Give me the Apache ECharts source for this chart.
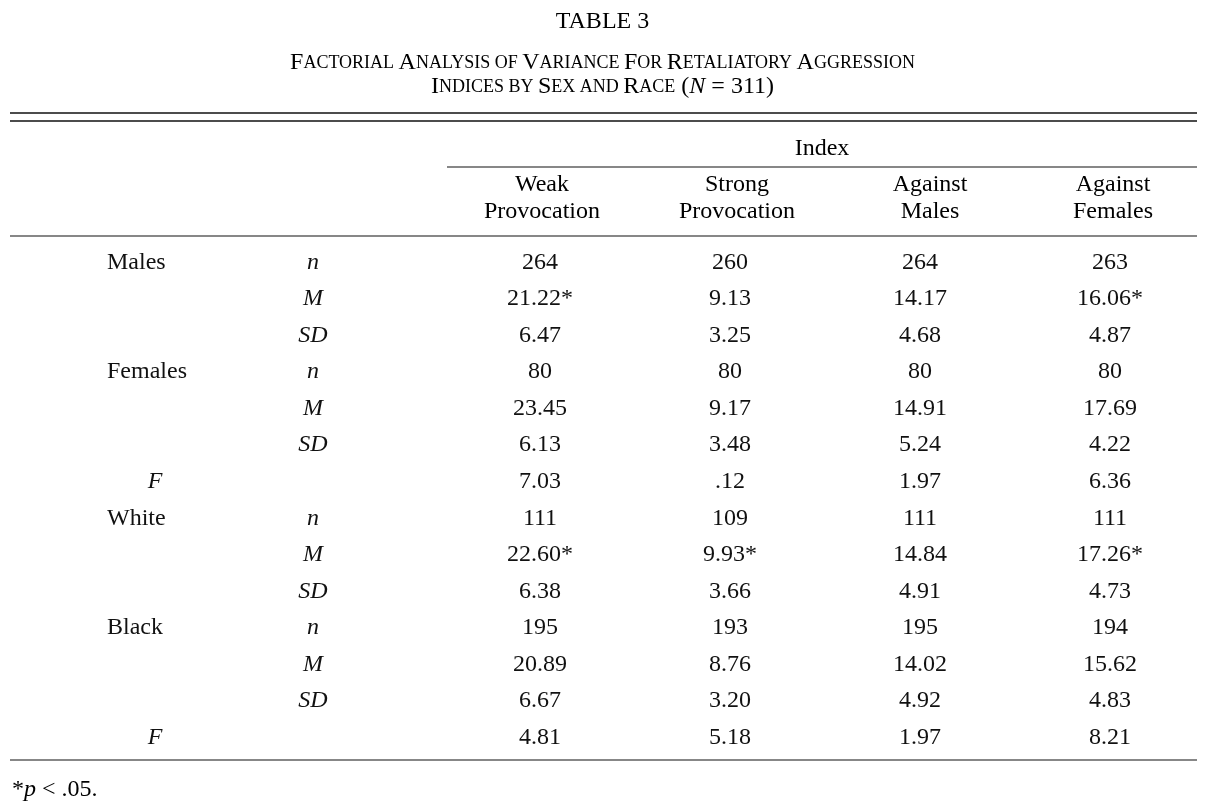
<!DOCTYPE html>
<html><head><meta charset="utf-8">
<script src="https://cdn.jsdelivr.net/npm/echarts@6/dist/echarts.min.js"></script>
<style>html,body{margin:0;background:#fff}#c{width:1205px;height:802px}</style>
</head><body><div id="c"></div>
<script>
// 表格数据
var indexCols = ['Weak\nProvocation', 'Strong\nProvocation', 'Against\nMales', 'Against\nFemales'];
var groupLabels = ['Males', '', '', 'Females', '', '', 'F', 'White', '', '', 'Black', '', '', 'F'];
var statLabels = ['n', 'M', 'SD', 'n', 'M', 'SD', '', 'n', 'M', 'SD', 'n', 'M', 'SD', ''];
var weakProv = ['264', '21.22*', '6.47', '80', '23.45', '6.13', '7.03', '111', '22.60*', '6.38', '195', '20.89', '6.67', '4.81'];
var strongProv = ['260', '9.13', '3.25', '80', '9.17', '3.48', '.12', '109', '9.93*', '3.66', '193', '8.76', '3.20', '5.18'];
var againstMales = ['264', '14.17', '4.68', '80', '14.91', '5.24', '1.97', '111', '14.84', '4.91', '195', '14.02', '4.92', '1.97'];
var againstFemales = ['263', '16.06*', '4.87', '80', '17.69', '4.22', '6.36', '111', '17.26*', '4.73', '194', '15.62', '4.83', '8.21'];

var FONT = '"Liberation Serif", "DejaVu Serif", serif';
var INK = '#111';
var rows = groupLabels.map(function (d, i) { return i; });
var indexValues = [weakProv, strongProv, againstMales, againstFemales];

var leftData = [], rightData = [];
rows.forEach(function (r) {
    leftData.push({ value: [0, r], text: groupLabels[r], isF: groupLabels[r] === 'F' });
    leftData.push({ value: [1, r], text: statLabels[r], italic: true });
    indexValues.forEach(function (col, c) { rightData.push({ value: [c, r], text: col[r] }); });
});

// 小型大写字母
function smallCaps(s) {
    return s.split(' ').map(function (w) {
        if (w === 'of' || w === 'by' || w === 'and') return '{s|' + w.toUpperCase() + '}';
        return '{b|' + w[0] + '}' + (w.length > 1 ? '{s|' + w.slice(1).toUpperCase() + '}' : '');
    }).join('{s| }');
}

var chart = echarts.init(document.getElementById('c'));
var textStyle = { fontFamily: FONT, fontSize: 24, color: INK };
var grid = { top: 244, bottom: 46 };
function cellLabel(text, extra) {
    return Object.assign({ show: true, position: 'inside', formatter: text, fontFamily: FONT, fontSize: 24, color: INK, opacity: 1 }, extra || {});
}
chart.setOption({
    animation: false,
    grid: [Object.assign({ left: 76, width: 316 }, grid), Object.assign({ left: 445, width: 775 }, grid)],
    xAxis: [
        { type: 'category', gridIndex: 0, data: [0, 1], show: false },
        { type: 'category', gridIndex: 1, data: indexCols, show: false }
    ],
    yAxis: [
        { type: 'category', gridIndex: 0, data: rows, inverse: true, show: false },
        { type: 'category', gridIndex: 1, data: rows, inverse: true, show: false }
    ],
    series: [
        {
            type: 'scatter', xAxisIndex: 0, yAxisIndex: 0, symbolSize: 0, silent: true,
            data: leftData.map(function (d) {
                var isGroup = d.value[0] === 0 && !d.isF;
                return {
                    value: d.value,
                    label: cellLabel(d.text, {
                        fontStyle: (d.italic || d.isF) ? 'italic' : 'normal',
                        align: isGroup ? 'left' : 'center',
                        offset: isGroup ? [-48, 0] : [0, 0]
                    })
                };
            })
        },
        {
            type: 'scatter', xAxisIndex: 1, yAxisIndex: 1, symbolSize: 0, silent: true,
            data: rightData.map(function (d) {
                return { value: d.value, label: cellLabel(d.text) };
            })
        }
    ],
    graphic: [
        { type: 'text', left: 'center', top: 10, style: Object.assign({ text: 'TABLE 3' }, textStyle) },
        { type: 'text', left: 'center', top: 51, style: { text: smallCaps('Factorial Analysis of Variance For Retaliatory Aggression'), rich: { b: textStyle, s: Object.assign({}, textStyle, { fontSize: 18 }) } } },
        { type: 'text', left: 'center', top: 75, style: { text: smallCaps('Indices by Sex and Race') + '{b| (}{i|N}{b| = 311)}', rich: { b: textStyle, s: Object.assign({}, textStyle, { fontSize: 18 }), i: Object.assign({}, textStyle, { fontStyle: 'italic' }) } } },
        { type: 'line', shape: { x1: 10, y1: 113, x2: 1197, y2: 113 }, style: { stroke: INK, lineWidth: 1.5 } },
        { type: 'line', shape: { x1: 10, y1: 121, x2: 1197, y2: 121 }, style: { stroke: INK, lineWidth: 1.5 } },
        { type: 'text', x: 822, y: 149, style: Object.assign({ text: 'Index', align: 'center', verticalAlign: 'middle' }, textStyle) },
        { type: 'line', shape: { x1: 447, y1: 167, x2: 1197, y2: 167 }, style: { stroke: INK, lineWidth: 1.2 } },
        { type: 'text', x: 542, y: 198, style: Object.assign({ text: indexCols[0], align: 'center', verticalAlign: 'middle', lineHeight: 27 }, textStyle) },
        { type: 'text', x: 737, y: 198, style: Object.assign({ text: indexCols[1], align: 'center', verticalAlign: 'middle', lineHeight: 27 }, textStyle) },
        { type: 'text', x: 930, y: 198, style: Object.assign({ text: indexCols[2], align: 'center', verticalAlign: 'middle', lineHeight: 27 }, textStyle) },
        { type: 'text', x: 1113, y: 198, style: Object.assign({ text: indexCols[3], align: 'center', verticalAlign: 'middle', lineHeight: 27 }, textStyle) },
        { type: 'line', shape: { x1: 10, y1: 236, x2: 1197, y2: 236 }, style: { stroke: INK, lineWidth: 1.2 } },
        { type: 'line', shape: { x1: 10, y1: 760, x2: 1197, y2: 760 }, style: { stroke: INK, lineWidth: 1.2 } },
        { type: 'text', x: 12, y: 790, style: { text: '{n|*}{i|p}{n| < .05.}', verticalAlign: 'middle', rich: { n: textStyle, i: Object.assign({}, textStyle, { fontStyle: 'italic' }) } } }
    ]
});
</script></body></html>
